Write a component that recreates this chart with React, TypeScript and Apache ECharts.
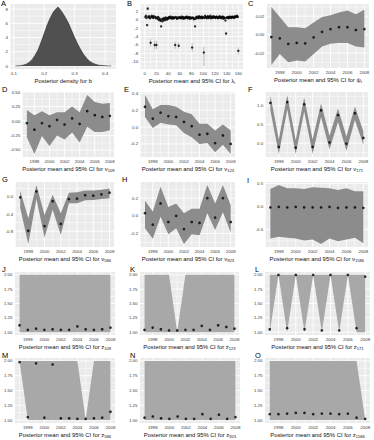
import React, { useEffect, useRef } from "react";
import * as echarts from "echarts";

const FONT = "'Liberation Sans', Arial, Helvetica, sans-serif";

const years = [1997, 1998, 1999, 2000, 2001, 2002, 2003, 2004, 2005, 2006, 2007, 2008];

// Panel A: posterior density of b
const bValues = [0.105, 0.12, 0.13, 0.14, 0.15, 0.16, 0.17, 0.18, 0.19, 0.2, 0.21, 0.22, 0.23, 0.24, 0.245, 0.25, 0.26, 0.27, 0.28, 0.29, 0.3, 0.31, 0.32, 0.33, 0.34, 0.35, 0.36, 0.37, 0.38, 0.39, 0.4, 0.41, 0.42];
const bDensity = [0.01, 0.05, 0.12, 0.25, 0.5, 0.9, 1.5, 2.3, 3.4, 4.6, 5.8, 6.8, 7.6, 8.1, 8.3, 8.1, 7.5, 6.8, 6.0, 5.0, 4.0, 3.1, 2.3, 1.6, 1.05, 0.65, 0.4, 0.22, 0.12, 0.07, 0.04, 0.02, 0.01];

// Panel B: lambda_i, i = 1..160
const lambdaMean = [
  0.6, 0.9, 0.4, -1.3, 2.6, 0.7, 0.5, 0.8, 0.3, -5.5, 0.6, 0.9, 0.5, 0.7, 0.4, 0.8, -6.0, 0.6, 0.3, -6.0,
  0.5, 0.2, 0.6, -0.1, 0.3, 0.0, -0.3, -1.6, 0.1, -0.4, 0.2, -0.2, 0.4, 0.1, -0.1, 0.5, 0.3, 0.0, 0.4, 0.2,
  0.5, 0.6, 0.3, 0.7, 0.4, 0.5, 0.2, 0.6, 0.4, 0.3, 0.5, -6.0, 0.6, 0.4, 0.2, 0.5, 0.3, -6.2, 0.6, 0.4,
  0.5, 0.3, 0.7, 0.4, 0.6, 0.2, 0.5, 0.4, 0.3, 0.6, 0.5, 0.7, 0.4, 0.3, 0.5, 0.6, 0.2, 0.4, 0.5, 0.3,
  -6.6, 0.5, 0.4, 0.1, 0.3, -1.6, 0.2, 0.6, 0.4, 0.7, 0.5, 0.3, 0.8, 0.6, 0.4, 0.5, 0.7, 0.3, 0.6, 0.5,
  -7.8, 0.4, 0.9, 0.6, 0.5, 0.3, 0.7, 0.8, 0.4, 0.6, 0.5, 0.9, 0.3, 0.6, 0.7, 0.4, 0.5, 0.8, 0.6, 0.5,
  0.4, 0.6, 0.7, 0.5, 0.3, 0.6, 0.5, 0.8, 0.4, 0.6, 0.5, 0.3, 0.7, 0.6, 0.2, 0.5, 0.4, -0.2, -3.3, 0.5,
  0.4, 0.6, 0.5, 0.3, 0.7, 0.6, 0.5, 0.4, 0.6, 0.7, 0.5, 0.6, 0.4, 0.7, 0.8, 0.6, 0.7, 0.9, 0.6, -7.4,
];
const lambdaBarIdx = [5, 10, 17, 20, 52, 58, 81, 101, 139, 160];
const lambdaBarLo = [2.2, -6.4, -7.0, -7.0, -6.9, -6.9, -7.6, -11.0, -3.8, -8.3];
const lambdaBarHi = [3.0, -4.6, -5.0, -5.0, -5.2, -5.5, -5.6, -6.4, -2.8, -6.6];

// Panel C: psi_t
const psiMean = [-0.0026, -0.004, -0.01, -0.009, -0.0095, -0.003, 0.003, 0.006, 0.008, 0.008, 0.005, 0.006];
const psiLo = [-0.033, -0.021, -0.03, -0.028, -0.029, -0.021, -0.013, -0.01, -0.009, -0.009, -0.013, -0.014];
const psiHi = [0.03, 0.019, 0.008, 0.008, 0.007, 0.013, 0.019, 0.021, 0.024, 0.026, 0.022, 0.027];

// Panels D-I: nu
const nu109Mean = [-0.035, -0.15, -0.035, -0.09, 0.02, -0.06, 0.045, -0.05, 0.17, 0.1, 0.07, 0.09];
const nu109Lo = [-0.28, -0.57, -0.26, -0.43, -0.25, -0.32, -0.2, -0.37, -0.1, -0.19, -0.19, -0.16];
const nu109Hi = [0.19, 0.1, 0.17, 0.1, 0.15, 0.15, 0.25, 0.15, 0.45, 0.33, 0.3, 0.31];

const nu123Mean = [0.24, 0.1, 0.17, 0.13, 0.12, 0.06, 0.01, -0.09, -0.08, -0.19, -0.1, -0.2];
const nu123Lo = [0.12, -0.01, 0.05, 0.03, 0.02, -0.07, -0.12, -0.2, -0.19, -0.3, -0.21, -0.32];
const nu123Hi = [0.38, 0.21, 0.26, 0.26, 0.24, 0.18, 0.15, 0.04, 0.04, -0.04, 0.03, -0.04];

const nu171Mean = [1.08, -0.1, 1.1, -0.12, 1.04, -0.1, 0.88, 0.02, 0.75, -0.01, 0.8, 0.14];
const nu171Lo = [0.88, -0.29, 0.9, -0.29, 0.85, -0.28, 0.7, -0.16, 0.57, -0.2, 0.62, -0.04];
const nu171Hi = [1.29, 0.1, 1.28, 0.08, 1.22, 0.1, 1.06, 0.2, 0.93, 0.18, 0.98, 0.32];

const nu586Mean = [-0.01, -0.79, 0.13, -0.68, -0.1, -0.63, -0.05, -0.04, 0.04, 0.03, 0.06, 0.1];
const nu586Lo = [-0.25, -1.1, -0.05, -0.95, -0.3, -0.88, -0.15, -0.15, -0.08, -0.07, -0.05, -0.03];
const nu586Hi = [0.15, -0.5, 0.28, -0.42, 0.05, -0.38, 0.1, 0.11, 0.15, 0.15, 0.17, 0.2];

const nu923Mean = [0.03, -0.1, 0.14, -0.07, 0.0, -0.15, -0.07, -0.08, 0.2, -0.02, 0.2, -0.07];
const nu923Lo = [-0.14, -0.26, -0.01, -0.21, -0.14, -0.32, -0.21, -0.22, 0.03, -0.16, 0.04, -0.19];
const nu923Hi = [0.17, 0.05, 0.33, 0.1, 0.14, 0.03, 0.08, 0.08, 0.35, 0.14, 0.35, 0.12];

const nu1586Mean = [-0.02, -0.01, -0.02, -0.01, -0.02, -0.02, -0.02, -0.01, -0.03, -0.02, -0.02, -0.03];
const nu1586Lo = [-0.7, -0.66, -0.68, -0.7, -0.74, -0.72, -0.82, -0.7, -0.76, -0.72, -0.68, -0.8];
const nu1586Hi = [0.38, 0.47, 0.4, 0.4, 0.38, 0.42, 0.41, 0.4, 0.36, 0.4, 0.33, 0.33];

// Panels J-O: z
const z109Mean = [1.12, 1.04, 1.06, 1.04, 1.05, 1.04, 1.04, 1.1, 1.05, 1.04, 1.05, 1.08];
const z109Lo = [1, 1, 1, 1, 1, 1, 1, 1, 1, 1, 1, 1];
const z109Hi = [2, 2, 2, 2, 2, 2, 2, 2, 2, 2, 2, 2];

const z123Mean = [1.04, 1.08, 1.05, 1.03, 1.03, 1.04, 1.04, 1.11, 1.04, 1.12, 1.09, 1.06];
const z123Lo = [1, 1, 1, 1, 1, 1, 1, 1, 1, 1, 1, 1];
const z123Hi = [2, 2, 2, 2, 1, 2, 2, 2, 2, 2, 2, 2];

const z171Mean = [1.05, 2.0, 1.07, 2.0, 1.05, 2.0, 1.03, 2.0, 1.03, 2.0, 1.07, 1.97];
const z171Lo = [1, 2, 1, 2, 1, 2, 1, 2, 1, 2, 1, 1];
const z171Hi = [2, 2, 2, 2, 2, 2, 2, 2, 2, 2, 2, 2];

const z586Mean = [1.98, 1.05, 1.96, 1.04, 1.94, 1.03, 1.03, 1.02, 1.02, 1.03, 1.04, 1.14];
const z586Lo = [2, 1, 1, 1, 1, 1, 1, 1, 1, 1, 1, 1];
const z586Hi = [2, 2, 2, 2, 2, 2, 2, 2, 1, 2, 2, 2];

const z923Mean = [1.04, 1.06, 1.03, 1.02, 1.06, 1.02, 1.02, 1.1, 1.02, 1.09, 1.02, 1.05];
const z923Lo = [1, 1, 1, 1, 1, 1, 1, 1, 1, 1, 1, 1];
const z923Hi = [2, 2, 2, 2, 2, 2, 2, 2, 2, 2, 2, 2];

const z1586Mean = [1.1, 1.1, 1.11, 1.12, 1.12, 1.1, 1.11, 1.11, 1.1, 1.11, 1.04, 1.02];
const z1586Lo = [1, 1, 1, 1, 1, 1, 1, 1, 1, 1, 1, 1];
const z1586Hi = [2, 2, 2, 2, 2, 2, 2, 2, 2, 2, 2, 1];

const TITLE_MAIN = "Posterior mean and 95% CI for ";

// layout: [left, top, right, bottom] of each plot panel, letter position
const LAYOUT: Record<string, { box: number[]; letter: number[] }> = {
  A: { box: [10.5, 4, 116, 69], letter: [1, 3] },
  B: { box: [140.7, 4, 243, 69], letter: [127, 3] },
  C: { box: [266.7, 4, 369, 68], letter: [248, 3] },
  D: { box: [22.7, 92, 114, 157], letter: [2, 89] },
  E: { box: [140.7, 92, 235, 157], letter: [124, 89] },
  F: { box: [265.7, 92, 368, 157], letter: [248, 89] },
  G: { box: [15.7, 182, 114, 247], letter: [2, 179] },
  H: { box: [140.7, 182, 235, 247], letter: [122, 179] },
  I: { box: [265.7, 182, 368, 247], letter: [247, 180] },
  J: { box: [15, 272, 115, 335], letter: [2, 269] },
  K: { box: [140, 272, 239, 335], letter: [130, 269] },
  L: { box: [265, 272, 370, 335], letter: [255, 269] },
  M: { box: [15, 358, 115, 423], letter: [2, 355] },
  N: { box: [140, 358, 240, 423], letter: [130, 355] },
  O: { box: [265, 358, 370, 423], letter: [255, 355] },
};

const BG = "#EBEBEB";
const RIBBON_NU = "#8c8c8c";
const RIBBON_Z = "#a8a8a8";

function expand(lo: number, hi: number) {
  const s = hi - lo;
  return [lo - s * 0.05, hi + s * 0.05];
}
function rnd(v: number) {
  return Math.round(v * 1e9) / 1e9;
}
function breaks(min: number, max: number, iv: number) {
  const major: number[] = [];
  let v = Math.ceil(min / iv - 1e-9) * iv;
  while (v <= max + 1e-9) {
    major.push(rnd(v));
    v += iv;
  }
  const minor: number[] = [];
  major.forEach((m) => {
    [m - iv / 2, m + iv / 2].forEach((q) => {
      const r = rnd(q);
      if (r > min && r < max && !minor.some((x) => Math.abs(x - r) < 1e-9)) minor.push(r);
    });
  });
  return { major, minor };
}

type PanelCfg = {
  key: string;
  title: string;
  sub?: string;
  xRange: number[];
  yRange: number[];
  xIv: number;
  yIv: number;
  xDec: number;
  yDec: number;
};

export default function App() {
  const ref = useRef<HTMLDivElement>(null);

  useEffect(() => {
    if (!ref.current) return;
    const chart = echarts.init(ref.current, undefined, { renderer: "svg" });

    const grids: any[] = [];
    const xAxes: any[] = [];
    const yAxes: any[] = [];
    const series: any[] = [];
    const graphics: any[] = [];

    const isMult = (v: number, iv: number) => Math.abs(v / iv - Math.round(v / iv)) < 1e-6;
    const tickLabel = {
      fontSize: 4.4,
      fontFamily: FONT,
      color: "#3a3a3a",
    };

    function addPanel(cfg: PanelCfg) {
      const idx = grids.length;
      const L = LAYOUT[cfg.key];
      const [l, t, r, b] = L.box;
      grids.push({
        left: l,
        top: t,
        width: r - l,
        height: b - t,
        show: true,
        backgroundColor: BG,
        borderWidth: 0,
        containLabel: false,
      });
      const name = cfg.sub ? `{t|${cfg.title}}{s|${cfg.sub}}` : `{t|${cfg.title}}`;
      xAxes.push({
        type: "value",
        gridIndex: idx,
        min: cfg.xRange[0],
        max: cfg.xRange[1],
        minInterval: cfg.xIv,
        maxInterval: cfg.xIv,
        splitLine: { show: false },
        axisLine: { show: false },
        axisTick: { show: false },
        axisLabel: {
          ...tickLabel,
          margin: 2,
          formatter: (v: number) => (isMult(v, cfg.xIv) ? v.toFixed(cfg.xDec) : ""),
        },
        name,
        nameLocation: "middle",
        nameGap: 7.5,
        nameTextStyle: {
          rich: {
            t: { fontSize: 5.9, fontFamily: FONT, color: "#111", lineHeight: 8 },
            s: { fontSize: 4.1, fontFamily: FONT, color: "#111", lineHeight: 4, verticalAlign: "bottom" },
          },
        },
      });
      yAxes.push({
        type: "value",
        gridIndex: idx,
        min: cfg.yRange[0],
        max: cfg.yRange[1],
        minInterval: cfg.yIv,
        maxInterval: cfg.yIv,
        splitLine: { show: false },
        axisLine: { show: false },
        axisTick: { show: false },
        axisLabel: {
          ...tickLabel,
          margin: 2.5,
          formatter: (v: number) => (isMult(v, cfg.yIv) ? v.toFixed(cfg.yDec) : ""),
        },
      });
      // grid lines (major and minor) drawn through the axis scales
      const xb = breaks(cfg.xRange[0], cfg.xRange[1], cfg.xIv);
      const yb = breaks(cfg.yRange[0], cfg.yRange[1], cfg.yIv);
      const lines: { dir: string; v: number; minor: boolean }[] = [];
      xb.minor.forEach((v) => lines.push({ dir: "x", v, minor: true }));
      yb.minor.forEach((v) => lines.push({ dir: "y", v, minor: true }));
      xb.major.forEach((v) => lines.push({ dir: "x", v, minor: false }));
      yb.major.forEach((v) => lines.push({ dir: "y", v, minor: false }));
      series.push({
        type: "custom",
        xAxisIndex: idx,
        yAxisIndex: idx,
        silent: true,
        z: 1,
        data: lines.map((_, k) => [k]),
        encode: { x: -1, y: -1 },
        renderItem: (params: any, api: any) => {
          const ln = lines[params.dataIndex];
          const p1 = ln.dir === "x" ? api.coord([ln.v, cfg.yRange[0]]) : api.coord([cfg.xRange[0], ln.v]);
          const p2 = ln.dir === "x" ? api.coord([ln.v, cfg.yRange[1]]) : api.coord([cfg.xRange[1], ln.v]);
          return {
            type: "line",
            shape: { x1: p1[0], y1: p1[1], x2: p2[0], y2: p2[1] },
            style: { stroke: "#FFFFFF", lineWidth: ln.minor ? 0.5 : 0.9 },
          };
        },
      });
      graphics.push({
        type: "text",
        x: L.letter[0],
        y: L.letter[1],
        style: {
          text: cfg.key,
          fontSize: 7.5,
          fontFamily: FONT,
          fill: "#000",
          verticalAlign: "middle",
          align: "left",
        },
      });
      return idx;
    }

    // ---- Panel A
    {
      const idx = addPanel({
        key: "A",
        title: "Posterior density for b",
        xRange: expand(Math.min(...bValues), Math.max(...bValues)),
        yRange: expand(0, Math.max(...bDensity)),
        xIv: 0.1,
        yIv: 2,
        xDec: 1,
        yDec: 0,
      });
      series.push({
        type: "line",
        xAxisIndex: idx,
        yAxisIndex: idx,
        z: 2,
        data: bValues.map((x, i) => [x, bDensity[i]]),
        symbol: "none",
        lineStyle: { color: "#1a1a1a", width: 0.5 },
        areaStyle: { color: "#505050", opacity: 1 },
      });
    }

    // ---- Panel B
    {
      const lo = Math.min(...lambdaMean, ...lambdaBarLo);
      const hi = Math.max(...lambdaMean, ...lambdaBarHi);
      const idx = addPanel({
        key: "B",
        title: "Posterior mean and 95% CI for λ",
        sub: "i",
        xRange: expand(1, lambdaMean.length),
        yRange: expand(lo, hi),
        xIv: 20,
        yIv: 2,
        xDec: 0,
        yDec: 0,
      });
      series.push({
        type: "custom",
        xAxisIndex: idx,
        yAxisIndex: idx,
        z: 2,
        data: lambdaBarIdx.map((i, k) => [i, lambdaBarLo[k], lambdaBarHi[k]]),
        encode: { x: 0, y: [1, 2] },
        renderItem: (params: any, api: any) => {
          const p1 = api.coord([api.value(0), api.value(1)]);
          const p2 = api.coord([api.value(0), api.value(2)]);
          return {
            type: "line",
            shape: { x1: p1[0], y1: p1[1], x2: p2[0], y2: p2[1] },
            style: { stroke: "#9a9a9a", lineWidth: 0.6 },
          };
        },
      });
      series.push({
        type: "scatter",
        xAxisIndex: idx,
        yAxisIndex: idx,
        z: 3,
        symbolSize: 2.4,
        itemStyle: { color: "#000" },
        data: lambdaMean.map((v, i) => [i + 1, v]),
      });
    }

    // ---- Ribbon panels
    const ribbonPanels: { key: string; sym: string; sub: string; mean: number[]; lo: number[]; hi: number[]; iv: number; dec: number; fill: string }[] = [
      { key: "C", sym: "ψ", sub: "t", mean: psiMean, lo: psiLo, hi: psiHi, iv: 0.02, dec: 2, fill: RIBBON_NU },
      { key: "D", sym: "ν", sub: "109", mean: nu109Mean, lo: nu109Lo, hi: nu109Hi, iv: 0.25, dec: 2, fill: RIBBON_NU },
      { key: "E", sym: "ν", sub: "123", mean: nu123Mean, lo: nu123Lo, hi: nu123Hi, iv: 0.2, dec: 1, fill: RIBBON_NU },
      { key: "F", sym: "ν", sub: "171", mean: nu171Mean, lo: nu171Lo, hi: nu171Hi, iv: 0.5, dec: 1, fill: RIBBON_NU },
      { key: "G", sym: "ν", sub: "586", mean: nu586Mean, lo: nu586Lo, hi: nu586Hi, iv: 0.4, dec: 1, fill: RIBBON_NU },
      { key: "H", sym: "ν", sub: "923", mean: nu923Mean, lo: nu923Lo, hi: nu923Hi, iv: 0.2, dec: 1, fill: RIBBON_NU },
      { key: "I", sym: "ν", sub: "1586", mean: nu1586Mean, lo: nu1586Lo, hi: nu1586Hi, iv: 0.5, dec: 1, fill: RIBBON_NU },
      { key: "J", sym: "z", sub: "109", mean: z109Mean, lo: z109Lo, hi: z109Hi, iv: 0.25, dec: 2, fill: RIBBON_Z },
      { key: "K", sym: "z", sub: "123", mean: z123Mean, lo: z123Lo, hi: z123Hi, iv: 0.25, dec: 2, fill: RIBBON_Z },
      { key: "L", sym: "z", sub: "171", mean: z171Mean, lo: z171Lo, hi: z171Hi, iv: 0.25, dec: 2, fill: RIBBON_Z },
      { key: "M", sym: "z", sub: "586", mean: z586Mean, lo: z586Lo, hi: z586Hi, iv: 0.25, dec: 2, fill: RIBBON_Z },
      { key: "N", sym: "z", sub: "923", mean: z923Mean, lo: z923Lo, hi: z923Hi, iv: 0.25, dec: 2, fill: RIBBON_Z },
      { key: "O", sym: "z", sub: "1586", mean: z1586Mean, lo: z1586Lo, hi: z1586Hi, iv: 0.25, dec: 2, fill: RIBBON_Z },
    ];

    ribbonPanels.forEach((p) => {
      const lo = Math.min(...p.mean, ...p.lo);
      const hi = Math.max(...p.mean, ...p.hi);
      const idx = addPanel({
        key: p.key,
        title: TITLE_MAIN + p.sym,
        sub: p.sub,
        xRange: expand(years[0], years[years.length - 1]),
        yRange: expand(lo, hi),
        xIv: 2,
        yIv: p.iv,
        xDec: 0,
        yDec: p.dec,
      });
      series.push({
        type: "custom",
        xAxisIndex: idx,
        yAxisIndex: idx,
        z: 2,
        silent: true,
        data: years.map((y, i) => [y, p.lo[i], p.hi[i]]),
        encode: { x: 0, y: [1, 2] },
        renderItem: (params: any, api: any) => {
          if (params.dataIndex !== 0) return null;
          const pts: number[][] = [];
          for (let i = 0; i < years.length; i++) pts.push(api.coord([years[i], p.hi[i]]));
          for (let i = years.length - 1; i >= 0; i--) pts.push(api.coord([years[i], p.lo[i]]));
          return { type: "polygon", shape: { points: pts }, style: { fill: p.fill } };
        },
      });
      series.push({
        type: "scatter",
        xAxisIndex: idx,
        yAxisIndex: idx,
        z: 3,
        symbolSize: 2.7,
        itemStyle: { color: "#000" },
        data: years.map((y, i) => [y, p.mean[i]]),
      });
    });

    chart.setOption({
      animation: false,
      backgroundColor: "#FFFFFF",
      textStyle: { fontFamily: FONT },
      grid: grids,
      xAxis: xAxes,
      yAxis: yAxes,
      series,
      graphic: graphics,
    });

    return () => chart.dispose();
  }, []);

  return (
    <div
      ref={ref}
      style={{ position: "fixed", left: 0, top: 0, width: 374, height: 440, background: "#fff" }}
    />
  );
}
